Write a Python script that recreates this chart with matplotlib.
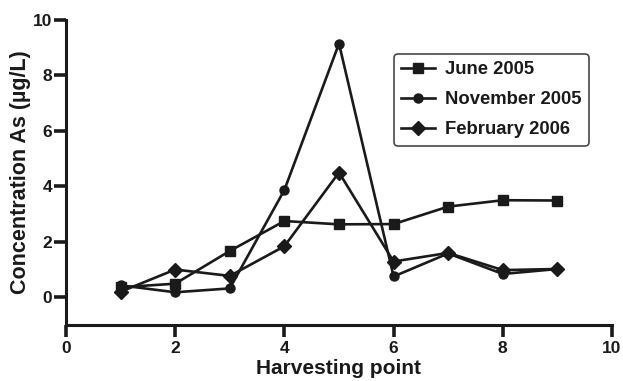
import matplotlib.pyplot as plt

points = [1, 2, 3, 4, 5, 6, 7, 8, 9]
june_2005 = [0.36, 0.49, 1.67, 2.75, 2.63, 2.64, 3.27, 3.5, 3.49]
november_2005 = [0.43, 0.18, 0.32, 3.87, 9.15, 0.75, 1.58, 0.84, 1.02]
february_2006 = [0.2, 1.0, 0.77, 1.84, 4.5, 1.29, 1.6, 0.98, 1.02]

plt.rcParams['font.family'] = ['Liberation Sans', 'DejaVu Sans']
plt.rcParams['font.weight'] = 'bold'

col = '#1a1a1a'

fig = plt.figure(figsize=(6.23, 3.81), dpi=100)
ax = fig.add_axes([66 / 623, 1 - 325 / 381, 546 / 623, 305 / 381])

ax.plot(points, june_2005, marker='s', color=col, lw=1.9, ms=7, label='June 2005')
ax.plot(points, november_2005, marker='o', color=col, lw=1.9, ms=6.5, label='November 2005')
ax.plot(points, february_2006, marker='D', color=col, lw=1.9, ms=7, label='February 2006')

ax.set_xlim(0, 10)
ax.set_ylim(-1, 10)
ax.set_xticks([0, 2, 4, 6, 8, 10])
ax.set_yticks([0, 2, 4, 6, 8, 10])
ax.spines['top'].set_visible(False)
ax.spines['right'].set_visible(False)
for s in ['left', 'bottom']:
    ax.spines[s].set_linewidth(2.2)
    ax.spines[s].set_color(col)
ax.tick_params(direction='out', length=8.5, width=2.6, color=col, labelsize=12.5, labelcolor=col)
ax.tick_params(axis='x', pad=3)
ax.tick_params(axis='y', pad=1.5)
for lab in ax.get_xticklabels() + ax.get_yticklabels():
    lab.set_fontweight('bold')

ax.set_xlabel('Harvesting point', fontsize=15, fontweight='bold', color=col, labelpad=2)
ax.set_ylabel('Concentration As (µg/L)', fontsize=15.5, fontweight='bold', color=col, labelpad=1)

leg = ax.legend(loc='upper left', bbox_to_anchor=(328 / 546, 1 - 34 / 305), fontsize=13.3,
                frameon=True, fancybox=True, edgecolor=col, handlelength=1.8,
                handletextpad=0.55, borderpad=0.4, labelspacing=0.7, borderaxespad=0)
leg.get_frame().set_linewidth(1.2)
for t in leg.get_texts():
    t.set_fontweight('bold')
    t.set_color(col)

fig.savefig('out.png', dpi=100)
